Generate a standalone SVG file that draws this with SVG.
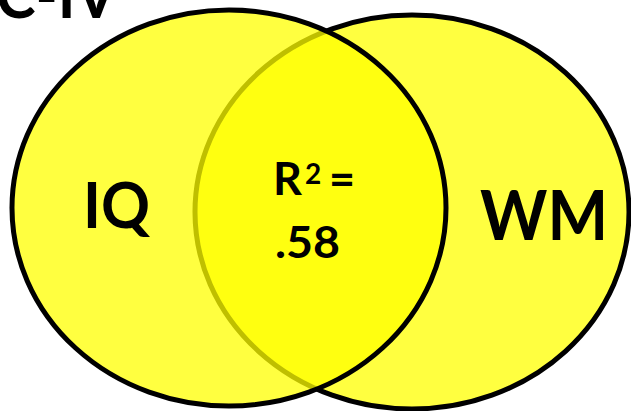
<svg xmlns="http://www.w3.org/2000/svg" width="631" height="411" viewBox="0 0 631 411">
  <style>
    .set { fill: #FFFF00; fill-opacity: 0.75; stroke: #000; stroke-width: 5; }
    .lbl { font-family: Lato, "Open Sans", "Liberation Sans", sans-serif; font-weight: bold; fill: #000; }
  </style>
  <rect width="631" height="411" fill="#fff"/>
  <g id="node-wm">
    <ellipse class="set" cx="412" cy="212" rx="217" ry="197"/>
    <text class="lbl" x="480" y="240" font-size="68" textLength="128" lengthAdjust="spacingAndGlyphs">WM</text>
  </g>
  <g id="node-iq">
    <ellipse class="set" cx="229" cy="208" rx="217" ry="198"/>
    <text class="lbl" x="83" y="228" font-size="64" textLength="67" lengthAdjust="spacingAndGlyphs">IQ</text>
  </g>
  <g id="node-overlap">
    <text class="lbl" x="273" y="195" font-size="45">R</text>
    <text class="lbl" x="305" y="184" font-size="28">2</text>
    <text class="lbl" x="329" y="195" font-size="45">=</text>
    <text class="lbl" x="275" y="258" font-size="43" textLength="65" lengthAdjust="spacingAndGlyphs">.58</text>
  </g>
  <g id="title">
    <text class="lbl" x="-4" y="18" font-size="64" textLength="121" lengthAdjust="spacingAndGlyphs">C-IV</text>
  </g>
  <g id="connectors"/>
</svg>
